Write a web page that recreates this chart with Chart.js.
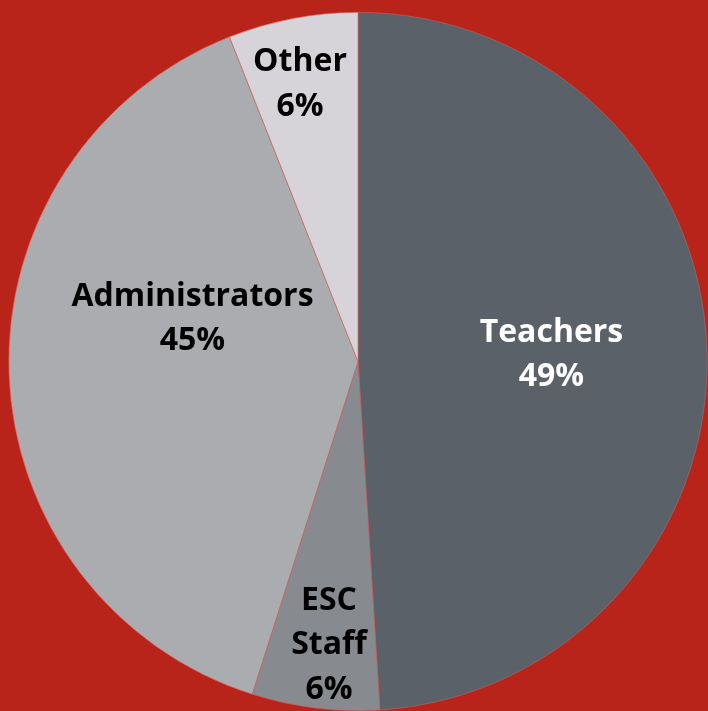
<!DOCTYPE html>
<html>
<head>
<meta charset="utf-8">
<script src="https://cdn.jsdelivr.net/npm/chart.js@4.4.1/dist/chart.umd.min.js"></script>
<style>
  html, body { margin: 0; padding: 0; background: #B8241A; }
  #wrap { position: relative; width: 708px; height: 711px; }
</style>
</head>
<body>
<div id="wrap"><canvas id="c" width="708" height="711"></canvas></div>
<script>
// Categories (clockwise from 12 o'clock)
const categories = ['Teachers', 'ESC Staff', 'Administrators', 'Other'];
// Label lines as printed on the chart
const labelLines = [['Teachers'], ['ESC', 'Staff'], ['Administrators'], ['Other']];
// Slice shares
const shares = [49.0, 5.9, 39.1, 6.0];
// Percent texts as printed on the chart
const percentLabels = ['49%', '6%', '45%', '6%'];

const sliceColors = ['#5B6168', '#878A8F', '#ABACB0', '#D6D3D9'];
const textColors = ['#FFFFFF', '#000000', '#000000', '#000000'];
// Label anchor offsets from pie centre (fractions of radius): [dx, first-baseline dy]
const labelAnchors = [[0.554, -0.057], [-0.083, 0.711], [-0.474, -0.160], [-0.166, -0.831]];

const labelPlugin = {
  id: 'sliceLabels',
  afterDatasetsDraw(chart) {
    const ctx = chart.ctx;
    const meta = chart.getDatasetMeta(0);
    const arc0 = meta.data[0];
    const cx = arc0.x, cy = arc0.y, R = arc0.outerRadius;
    ctx.save();
    ctx.font = 'bold 32px "Open Sans"';
    ctx.textAlign = 'center';
    ctx.textBaseline = 'alphabetic';
    const lh = 44.5;
    meta.data.forEach((arc, i) => {
      const lines = labelLines[i].concat([percentLabels[i]]);
      const x = cx + labelAnchors[i][0] * R;
      let y = cy + labelAnchors[i][1] * R;
      ctx.fillStyle = textColors[i];
      lines.forEach((t, k) => ctx.fillText(t, x, y + k * lh));
    });
    ctx.restore();
  }
};

new Chart(document.getElementById('c'), {
  type: 'pie',
  data: {
    labels: categories,
    datasets: [{
      data: shares,
      backgroundColor: sliceColors,
      borderColor: '#C9625C',
      borderWidth: 0.6
    }]
  },
  options: {
    responsive: false,
    animation: false,
    layout: { padding: { left: 8, right: 0, top: 12, bottom: 0 } },
    plugins: { legend: { display: false }, tooltip: { enabled: false } }
  },
  plugins: [labelPlugin]
});
</script>
</body>
</html>
